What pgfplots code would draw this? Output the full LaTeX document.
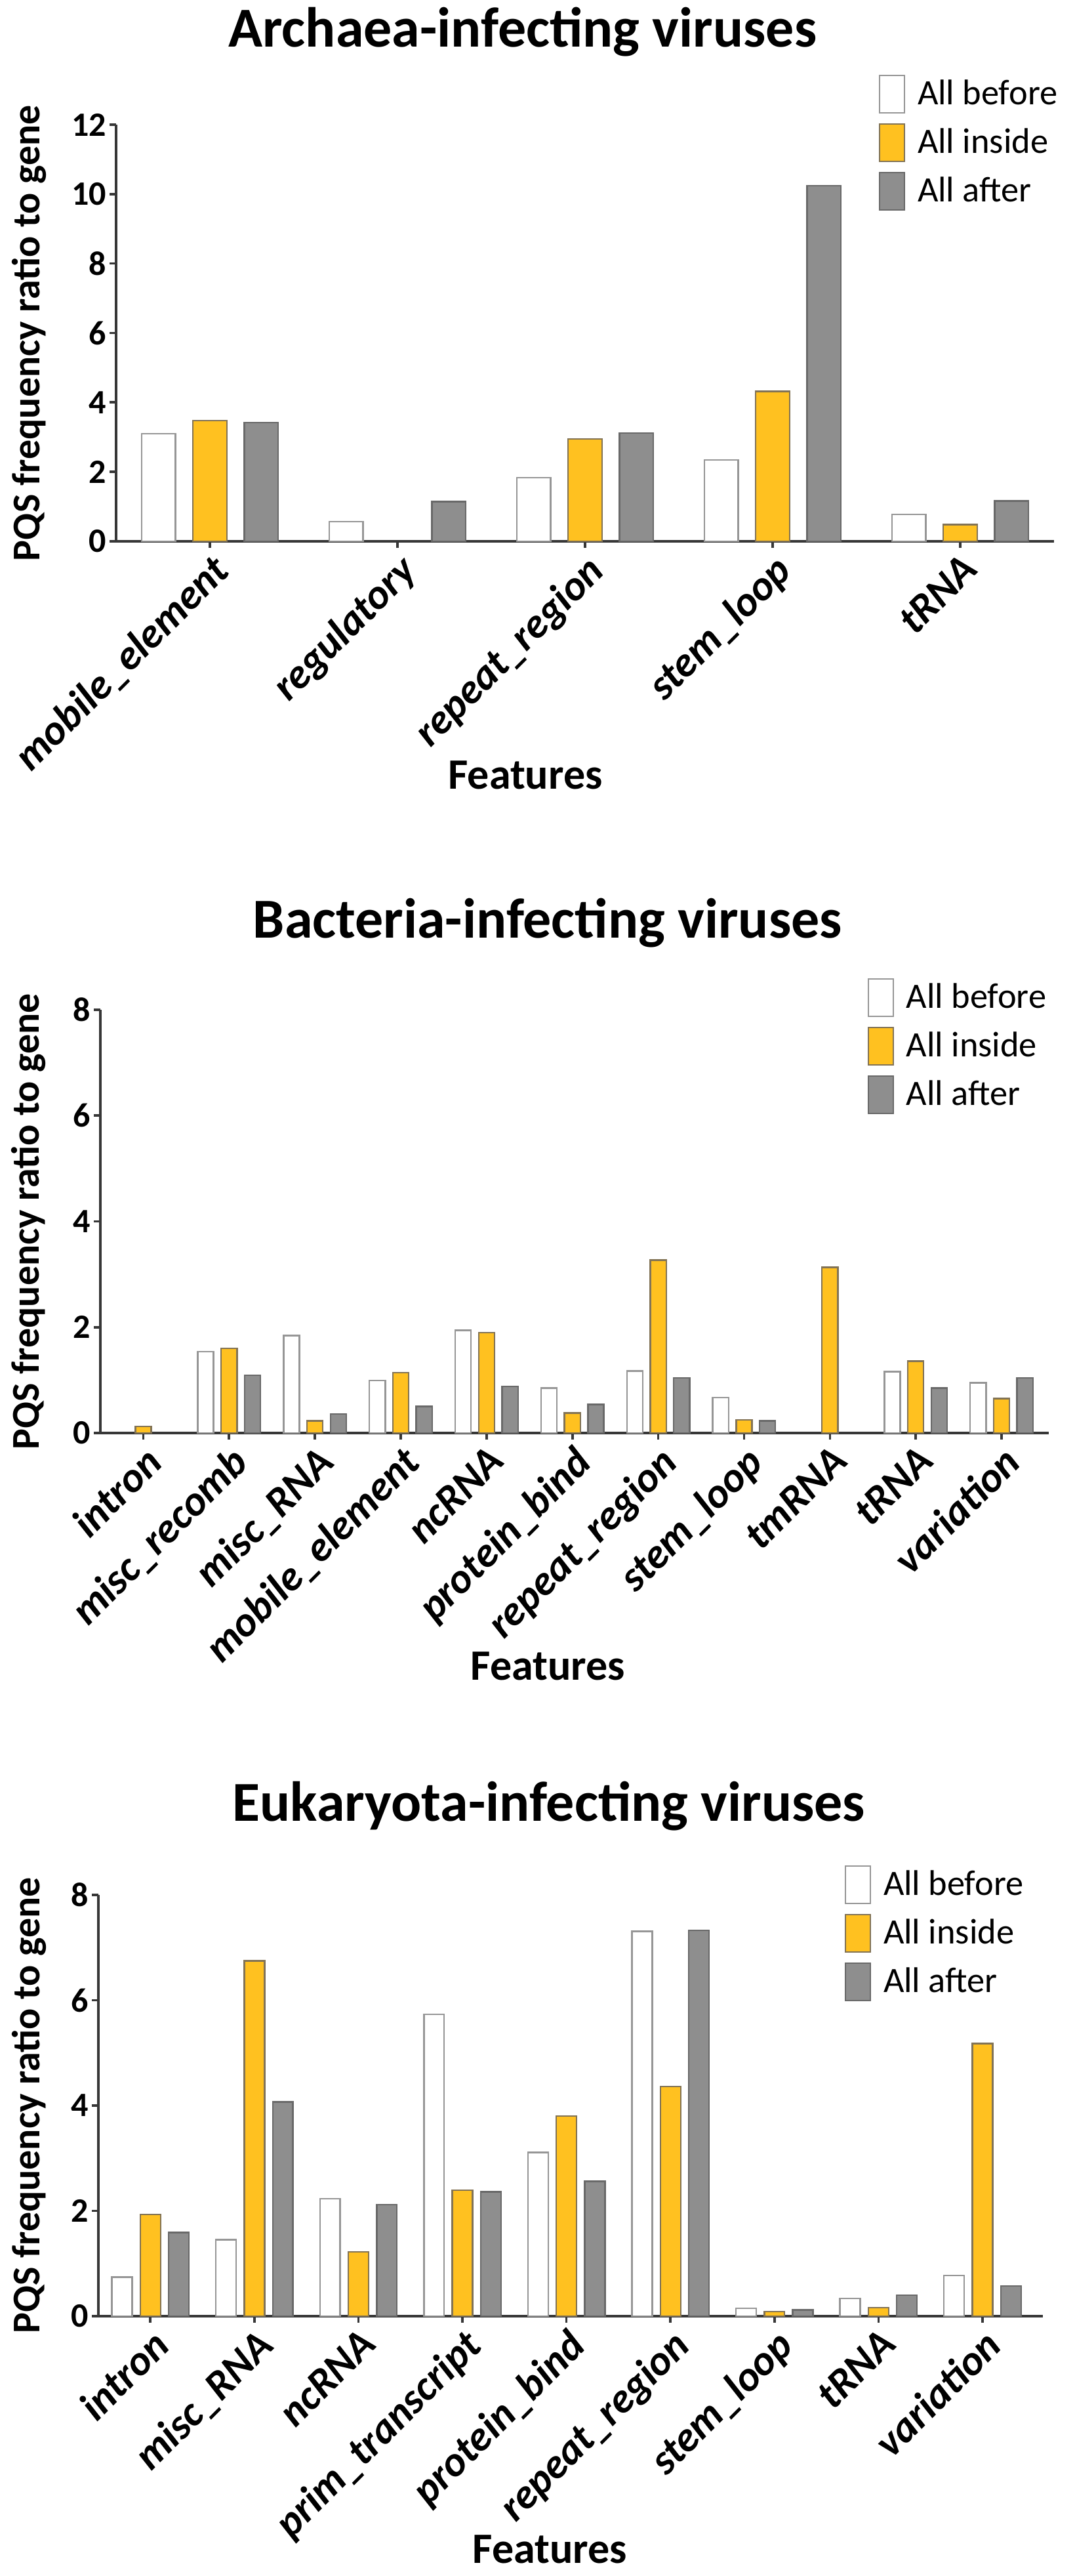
\documentclass[border=0pt]{standalone}
\usepackage{pgfplots}
\pgfplotsset{compat=1.18}
\usepackage{fontspec}
\setmainfont{Carlito}
\definecolor{yel}{RGB}{255,193,32}
\definecolor{grf}{RGB}{142,142,142}
\definecolor{wbord}{RGB}{150,150,150}
\definecolor{ybord}{RGB}{130,115,85}
\definecolor{gbord}{RGB}{105,105,105}
\definecolor{axc}{RGB}{55,55,55}
\tikzset{
  tstyle/.style={font=\fontsize{21.5}{25}\selectfont\bfseries, anchor=base},
  xlstyle/.style={font=\fontsize{16.5}{20}\selectfont\bfseries, anchor=base},
  ylstyle/.style={font=\fontsize{15}{18}\selectfont\bfseries, anchor=center},
}
\pgfplotsset{
  every axis title shift=0pt,
  panel/.style={
    scale only axis,
    ybar,
    anchor=south west,
    axis lines=left,
    axis line style={-, line width=1pt, color=axc},
    tick style={line width=0.9pt, color=axc},
    tick align=outside,
    major tick length=2.5pt,
    ymin=0,
    /pgf/number format/assume math mode=true,
    yticklabel style={font=\fontsize{13}{15}\selectfont\bfseries, inner sep=1pt},
    xticklabel style={font=\fontsize{16}{19}\selectfont\bfseries\itshape, rotate=45, anchor=north east, inner sep=1pt},
    ylabel={PQS frequency ratio to gene},
    xlabel={Features},
    legend style={anchor=north west, draw=none, fill=none, inner sep=0pt,
      nodes={inner sep=0.5pt},
      font=\fontsize{13.6}{16}\selectfont, row sep=3.7pt, cells={anchor=west},
      /tikz/every odd column/.append style={column sep=4.2pt}},
    legend cell align=left,
    legend image code/.code={\draw[#1, line width=0.6pt] (0pt,-7.1pt) rectangle (9.5pt,7.1pt);},
    clip=false,
  },
  bef/.style={fill=white, draw=wbord, line width=0.6pt, bar shift=-0.273},
  ins/.style={fill=yel, draw=ybord, line width=0.6pt, bar shift=0},
  aft/.style={fill=grf, draw=gbord, line width=0.6pt, bar shift=0.273},
}
\begin{document}
\begin{tikzpicture}
\useasboundingbox (0,0) rectangle (409.5pt,981.5pt);
% Panel 1
\begin{axis}[panel, at={(44.25pt,775.25pt)}, width=357.5pt, height=158.75pt,
  xmin=-0.5, xmax=4.5, ymax=12, ytick={0,2,...,12}, xtick={0,...,4},
  bar width=0.18,
  xticklabels={mobile\_element,regulatory,repeat\_region,stem\_loop,tRNA},
  title={Archaea-infecting viruses},
  title style={tstyle, at={(axis description cs:0.4336,1.186)}, anchor=base},
  xlabel style={xlstyle, at={(axis description cs:0.4364,-0.594)}, anchor=base},
  ylabel style={ylstyle, at={(axis description cs:-0.093,0.5)}, anchor=center},
  legend style={at={(axis description cs:0.8126,1.1213)}},
]
\addplot[bef] coordinates {(0,3.10) (1,0.57) (2,1.83) (3,2.34) (4,0.77)};
\addplot[ins] coordinates {(0,3.48) (2,2.95) (3,4.32) (4,0.48)};
\addplot[aft] coordinates {(0,3.42) (1,1.14) (2,3.12) (3,10.24) (4,1.16)};
\legend{All before, All inside, All after}
\end{axis}
% Panel 2
\begin{axis}[panel, at={(38.25pt,435.5pt)}, width=361.5pt, height=161.25pt,
  xmin=-0.5, xmax=10.55, ymax=8, ytick={0,2,...,8}, xtick={0,...,10},
  bar width=0.185,
  xticklabels={intron,misc\_recomb,misc\_RNA,mobile\_element,ncRNA,protein\_bind,repeat\_region,stem\_loop,tmRNA,tRNA,variation},
  title={Bacteria-infecting viruses},
  title style={tstyle, at={(axis description cs:0.4716,1.1705)}, anchor=base},
  xlabel style={xlstyle, at={(axis description cs:0.472,-0.5845)}, anchor=base},
  ylabel style={ylstyle, at={(axis description cs:-0.0754,0.5)}, anchor=center},
  legend style={at={(axis description cs:0.8084,1.076)}},
]
\addplot[bef] coordinates {(1,1.54) (2,1.84) (3,0.99) (4,1.94) (5,0.85) (6,1.17) (7,0.67) (9,1.16) (10,0.95)};
\addplot[ins] coordinates {(0,0.12) (1,1.60) (2,0.23) (3,1.14) (4,1.90) (5,0.38) (6,3.27) (7,0.25) (8,3.13) (9,1.36) (10,0.65)};
\addplot[aft] coordinates {(1,1.09) (2,0.36) (3,0.50) (4,0.88) (5,0.54) (6,1.04) (7,0.23) (9,0.85) (10,1.04)};
\legend{All before, All inside, All after}
\end{axis}
% Panel 3
\begin{axis}[panel, at={(37.5pt,99pt)}, width=360pt, height=160.5pt,
  xmin=-0.5, xmax=8.58, ymax=8, ytick={0,2,...,8}, xtick={0,...,8},
  bar width=0.195,
  xticklabels={intron,misc\_RNA,ncRNA,prim\_transcript,protein\_bind,repeat\_region,stem\_loop,tRNA,variation},
  title={Eukaryota-infecting viruses},
  title style={tstyle, at={(axis description cs:0.477,1.1745)}, anchor=base},
  xlabel style={xlstyle, at={(axis description cs:0.478,-0.587)}, anchor=base},
  ylabel style={ylstyle, at={(axis description cs:-0.0736,0.5)}, anchor=center},
  legend style={at={(axis description cs:0.7896,1.0717)}},
]
\addplot[bef] coordinates {(0,0.74) (1,1.45) (2,2.23) (3,5.73) (4,3.11) (5,7.31) (6,0.15) (7,0.34) (8,0.77)};
\addplot[ins] coordinates {(0,1.93) (1,6.75) (2,1.22) (3,2.39) (4,3.80) (5,4.36) (6,0.09) (7,0.16) (8,5.18)};
\addplot[aft] coordinates {(0,1.59) (1,4.07) (2,2.12) (3,2.36) (4,2.56) (5,7.33) (6,0.12) (7,0.40) (8,0.57)};
\legend{All before, All inside, All after}
\end{axis}
\end{tikzpicture}
\end{document}
